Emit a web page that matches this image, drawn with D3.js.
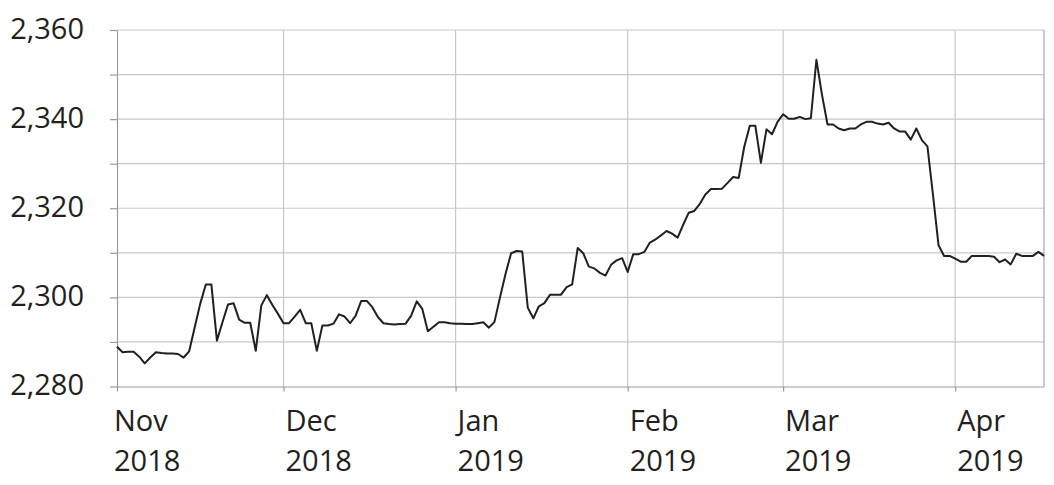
<!DOCTYPE html>
<html>
<head>
<meta charset="utf-8">
<script src="https://cdn.jsdelivr.net/npm/d3@7/dist/d3.min.js"></script>
<style>
  html, body { margin: 0; padding: 0; background: #fff; }
  svg { display: block; }
  text { font-family: "Open Sans", "Noto Sans", sans-serif; fill: #231f20; }
</style>
</head>
<body>
<svg id="chart" width="1054" height="485"></svg>
<script>
// Daily values, one array per month (first value = 1st of month)
const startDate = "2018-11-01";
const nov2018 = [2288.9, 2287.7, 2287.8, 2287.8, 2286.7, 2285.2, 2286.5, 2287.7, 2287.5, 2287.4,
                 2287.4, 2287.3, 2286.5, 2287.9, 2293.3, 2298.6, 2302.9, 2302.9, 2290.3, 2294.4,
                 2298.4, 2298.7, 2295.0, 2294.3, 2294.3, 2288.0, 2298.2, 2300.5, 2298.3, 2296.3];
const dec2018 = [2294.2, 2294.2, 2295.7, 2297.2, 2294.2, 2294.2, 2288.0, 2293.7, 2293.7, 2294.1,
                 2296.2, 2295.7, 2294.2, 2295.9, 2299.2, 2299.2, 2297.8, 2295.6, 2294.2, 2294.0,
                 2293.9, 2294.0, 2294.1, 2295.9, 2299.1, 2297.4, 2292.4, 2293.4, 2294.4, 2294.4, 2294.2];
const jan2019 = [2294.1, 2294.1, 2294.0, 2294.0, 2294.2, 2294.4, 2293.2, 2294.5, 2300.0, 2305.3,
                 2309.9, 2310.4, 2310.3, 2297.7, 2295.3, 2298.0, 2298.7, 2300.6, 2300.6, 2300.6,
                 2302.3, 2302.9, 2311.1, 2309.9, 2306.9, 2306.5, 2305.5, 2304.9, 2307.3, 2308.3, 2308.8];
const feb2019 = [2305.7, 2309.7, 2309.7, 2310.2, 2312.3, 2313.0, 2313.9, 2314.9, 2314.3, 2313.4,
                 2316.3, 2319.0, 2319.4, 2321.0, 2323.1, 2324.3, 2324.3, 2324.4, 2325.7, 2327.0,
                 2326.8, 2333.8, 2338.5, 2338.5, 2330.2, 2337.7, 2336.6, 2339.4];
const mar2019 = [2341.1, 2340.1, 2340.1, 2340.5, 2340.0, 2340.2, 2353.3, 2345.5, 2338.8, 2338.8,
                 2337.9, 2337.5, 2337.9, 2337.9, 2338.8, 2339.4, 2339.4, 2339.0, 2338.8, 2339.2,
                 2337.9, 2337.2, 2337.2, 2335.4, 2337.9, 2335.3, 2333.9, 2323.0, 2311.7, 2309.3, 2309.3];
const apr2019 = [2308.7, 2308.0, 2308.0, 2309.3, 2309.3, 2309.3, 2309.3, 2309.1, 2307.9, 2308.5,
                 2307.4, 2309.8, 2309.3, 2309.3, 2309.3, 2310.2, 2309.3];

const yTicks = [2280, 2290, 2300, 2310, 2320, 2330, 2340, 2350, 2360];
const yLabels = [2280, 2300, 2320, 2340, 2360];
const monthTicks = ["2018-11-01", "2018-12-01", "2019-01-01", "2019-02-01", "2019-03-01", "2019-04-01"];
const monthNames = ["Nov", "Dec", "Jan", "Feb", "Mar", "Apr"];
const yearNames = ["2018", "2018", "2019", "2019", "2019", "2019"];

(function () {
const parse = d3.timeParse("%Y-%m-%d");
const allValues = [].concat(nov2018, dec2018, jan2019, feb2019, mar2019, apr2019);
const t0 = parse(startDate);
const data = allValues.map((v, i) => ({ date: d3.timeDay.offset(t0, i), value: v }));

const pLeft = 117, pRight = 1044, pTop = 30, pBottom = 386.5;
const x = d3.scaleTime()
  .domain([t0, data[data.length - 1].date])
  .range([pLeft, pRight]);
const y = d3.scaleLinear().domain([2280, 2360]).range([pBottom, pTop]);

const svg = d3.select("#chart");

// horizontal gridlines
svg.append("g").selectAll("line").data(yTicks.filter(t => t > 2280)).join("line")
  .attr("x1", pLeft).attr("x2", pRight)
  .attr("y1", d => y(d)).attr("y2", d => y(d))
  .attr("stroke", "#c8c8c8").attr("stroke-width", 1.2);

// vertical gridlines at month starts
const mTicks = monthTicks.map(parse);
svg.append("g").selectAll("line").data(mTicks.slice(1)).join("line")
  .attr("x1", d => x(d)).attr("x2", d => x(d))
  .attr("y1", pTop).attr("y2", pBottom)
  .attr("stroke", "#c8c8c8").attr("stroke-width", 1.2);

// right border
svg.append("line").attr("x1", pRight).attr("x2", pRight).attr("y1", pTop).attr("y2", pBottom)
  .attr("stroke", "#a6a6a6").attr("stroke-width", 1.2);

// left axis
const yAxis = svg.append("g").attr("transform", `translate(${pLeft},0)`)
  .call(d3.axisLeft(y).tickValues(yTicks).tickSize(7).tickSizeOuter(0).tickFormat(""));
yAxis.selectAll("path, line").attr("stroke", "#9a9a9a").attr("stroke-width", 1.2);

// y labels
svg.append("g").selectAll("text").data(yLabels).join("text")
  .attr("x", 84).attr("y", d => y(d) + 8.5)
  .attr("text-anchor", "end")
  .style("font-size", "29px")
  .text(d => d3.format(",")(d));

// bottom axis
const xAxis = svg.append("g").attr("transform", `translate(0,${pBottom})`)
  .call(d3.axisBottom(x).tickValues(mTicks).tickSize(5).tickSizeOuter(0).tickFormat(""));
xAxis.selectAll("path, line").attr("stroke", "#9a9a9a").attr("stroke-width", 1.2);

// x labels
const xl = svg.append("g").selectAll("g").data(mTicks).join("g");
const lx = (d, i) => x(d) + (i === 0 ? -3 : 2);
xl.append("text").attr("x", lx).attr("y", 431)
  .style("font-size", "29px").text((d, i) => monthNames[i]);
xl.append("text").attr("x", lx).attr("y", 471)
  .style("font-size", "29px").text((d, i) => yearNames[i]);

// line
const line = d3.line().x(d => x(d.date)).y(d => y(d.value));
svg.append("path").datum(data)
  .attr("fill", "none").attr("stroke", "#231f20").attr("stroke-width", 2)
  .attr("stroke-linejoin", "round")
  .attr("d", line);
})();
</script>
</body>
</html>
